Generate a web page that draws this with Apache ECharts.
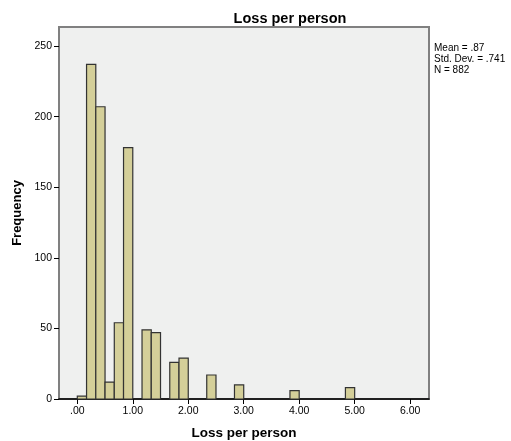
<!DOCTYPE html>
<html>
<head>
<meta charset="utf-8">
<script src="https://cdn.jsdelivr.net/npm/echarts@6/dist/echarts.min.js"></script>
<style>html,body{margin:0;padding:0;background:#fff;}#c{width:511px;height:441px;}</style>
</head>
<body>
<div id="c"></div>
<script>
// Histogram bins (lower edge, upper edge) and frequencies
var binLow  = [0.0, 0.1667, 0.3333, 0.5, 0.6667, 0.8333, 1.1667, 1.3333, 1.6667, 1.8333, 2.3333, 2.8333, 3.8333, 4.8333];
var binHigh = [0.1667, 0.3333, 0.5, 0.6667, 0.8333, 1.0, 1.3333, 1.5, 1.8333, 2.0, 2.5, 3.0, 4.0, 5.0];
var counts  = [2, 237, 207, 12, 54, 178, 49, 47, 26, 29, 17, 10, 6, 8];
var xTicks = [0, 1, 2, 3, 4, 5, 6];
var yTicks = [0, 50, 100, 150, 200, 250];
var statsLines = ['Mean = .87', 'Std. Dev. = .741', 'N = 882'];

var data = [];
for (var i = 0; i < counts.length; i++) data.push([binLow[i], binHigh[i], counts[i]]);

var chart = echarts.init(document.getElementById('c'), null, {renderer: 'canvas'});
chart.setOption({
  animation: false,
  backgroundColor: '#ffffff',
  title: {
    text: 'Loss per person', left: 285, top: 6, textAlign: 'center',
    textStyle: {fontFamily: 'Liberation Sans, Arial', fontSize: 14.5, fontWeight: 'bold', color: '#000'}
  },
  graphic: [{
    type: 'text', left: 434, top: 43,
    style: {text: statsLines.join('\n'), font: '10px Liberation Sans, Arial', fill: '#000', lineHeight: 11}
  }],
  grid: {
    left: 59, right: 82, top: 27, bottom: 42, outerBoundsMode: 'none', containLabel: false,
    show: true, backgroundColor: '#eff0ef', borderColor: '#808080', borderWidth: 2
  },
  xAxis: {
    type: 'value', min: -0.33, max: 6.34,
    name: 'Loss per person', nameLocation: 'middle', nameGap: 27,
    nameTextStyle: {fontFamily: 'Liberation Sans, Arial', fontSize: 13.5, fontWeight: 'bold', color: '#000'},
    axisLine: {show: true, onZero: false, lineStyle: {color: '#000', width: 1.5}},
    axisTick: {show: true, length: 5, customValues: xTicks, lineStyle: {color: '#000'}},
    axisLabel: {
      customValues: xTicks, margin: 7, color: '#000', fontSize: 10.5, fontFamily: 'Liberation Sans, Arial',
      formatter: function (v) { var s = v.toFixed(2); return s.charAt(0) === '0' ? s.substring(1) : s; }
    },
    splitLine: {show: false}
  },
  yAxis: {
    type: 'value', min: 0, max: 263.5,
    name: 'Frequency', nameLocation: 'middle', nameGap: 30.5, nameRotate: 90,
    nameTextStyle: {fontFamily: 'Liberation Sans, Arial', fontSize: 13, fontWeight: 'bold', color: '#000'},
    axisLine: {show: true, onZero: false, lineStyle: {color: '#808080', width: 2}},
    axisTick: {show: true, length: 5, customValues: yTicks, lineStyle: {color: '#000'}},
    axisLabel: {customValues: yTicks, margin: 7, color: '#000', fontSize: 10.5, fontFamily: 'Liberation Sans, Arial'},
    splitLine: {show: false}
  },
  series: [{
    type: 'custom',
    data: data,
    encode: {x: [0, 1], y: 2},
    renderItem: function (params, api) {
      var p0 = api.coord([api.value(0), 0]);
      var p1 = api.coord([api.value(1), api.value(2)]);
      return {
        type: 'rect',
        shape: {x: p0[0], y: p1[1], width: p1[0] - p0[0], height: p0[1] - p1[1]},
        style: {fill: '#d4cf99', stroke: '#333333', lineWidth: 1.2}
      };
    }
  }]
});
</script>
</body>
</html>
